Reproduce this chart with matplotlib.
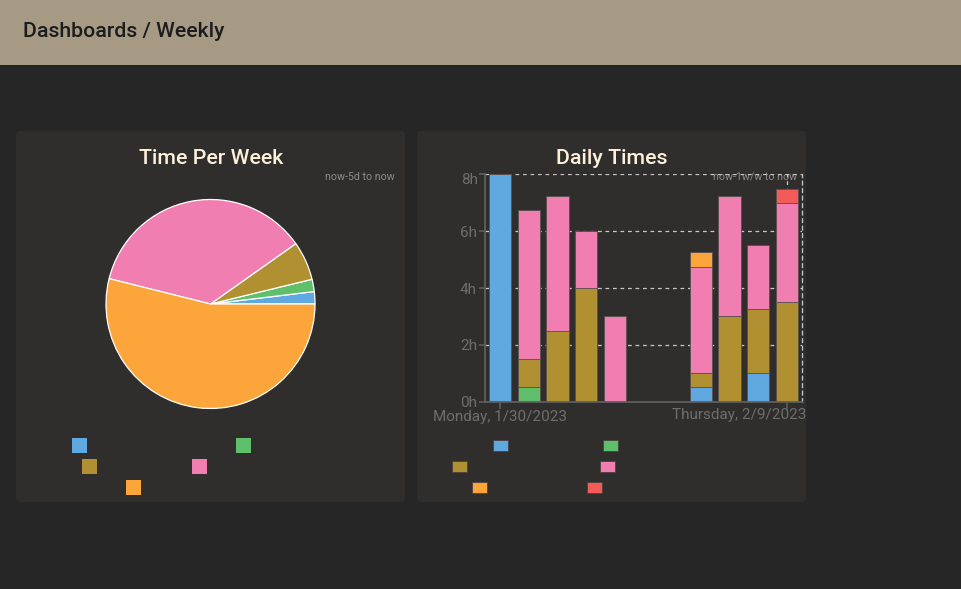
import matplotlib
matplotlib.use("Agg")
import matplotlib.pyplot as plt
from matplotlib.patches import Rectangle, FancyBboxPatch
import numpy as np

plt.rcParams['font.family'] = ['Roboto', 'DejaVu Sans']

# ---------------- data ----------------
pie_colors = ['#5fa8e0', '#5fbf6a', '#b09030', '#f07eb0', '#fca53b']
pie_values = [1.9, 1.9, 6.0, 36.3, 53.9]          # share of week (%)

days = ['Monday, 1/30/2023', 'Tue 1/31', 'Wed 2/1', 'Thu 2/2', 'Fri 2/3',
        'Sat 2/4', 'Sun 2/5', 'Mon 2/6', 'Tue 2/7', 'Wed 2/8',
        'Thursday, 2/9/2023']
bar_colors = ['#5fa8e0', '#5fbf6a', '#b09030', '#f07eb0', '#fca53b', '#f25c58']
s_blue   = [8.0, 0.0, 0.0, 0.0, 0.0, 0, 0, 0.5, 0.0, 1.0, 0.0]
s_green  = [0.0, 0.5, 0.0, 0.0, 0.0, 0, 0, 0.0, 0.0, 0.0, 0.0]
s_olive  = [0.0, 1.0, 2.5, 4.0, 0.0, 0, 0, 0.5, 3.0, 2.25, 3.5]
s_pink   = [0.0, 5.25, 4.75, 2.0, 3.0, 0, 0, 3.75, 4.25, 2.25, 3.5]
s_orange = [0.0, 0.0, 0.0, 0.0, 0.0, 0, 0, 0.5, 0.0, 0.0, 0.0]
s_red    = [0.0, 0.0, 0.0, 0.0, 0.0, 0, 0, 0.0, 0.0, 0.0, 0.5]
bar_series = [s_blue, s_green, s_olive, s_pink, s_orange, s_red]
y_ticks = [0, 2, 4, 6, 8]
y_tick_labels = ['0h', '2h', '4h', '6h', '8h']

# ---------------- figure ----------------
W, H = 961, 589
fig = plt.figure(figsize=(W / 100, H / 100), dpi=100)
fig.patch.set_facecolor('#262626')

bg = fig.add_axes([0, 0, 1, 1])
bg.set_xlim(0, W)
bg.set_ylim(H, 0)
bg.axis('off')

# header with shadow
for i, a in enumerate([0.25, 0.15, 0.08]):
    bg.add_patch(Rectangle((0, 64 + i), W, 1.2, color='black', alpha=a, lw=0))
bg.add_patch(Rectangle((0, 0), W, 64.5, color='#a69a85', lw=0))
bg.text(23, 31.5, 'Dashboards / Weekly', fontsize=15.3, fontweight='medium',
        color='#1c1c1c', va='center', ha='left')

# panels
for x0 in (16, 417):
    bg.add_patch(FancyBboxPatch((x0, 131), 389, 371,
                                boxstyle='round,pad=0,rounding_size=4',
                                facecolor='#302e2c', edgecolor='none'))

title_col = '#fdf1da'
bg.text(211, 158, 'Time Per Week', fontsize=15.4, fontweight='medium',
        color=title_col, ha='center', va='center')
bg.text(612, 158, 'Daily Times', fontsize=15.4, fontweight='medium',
        color=title_col, ha='center', va='center')
bg.text(395, 177, 'now-5d to now', fontsize=7.7, color='#8c8c8c',
        ha='right', va='center')

# legend squares (labels not visible in reference)
pie_leg_pos = [(72, 438), (236, 438), (82, 459), (192, 459), (126, 480)]
for (x, y), c in zip(pie_leg_pos, pie_colors):
    bg.add_patch(Rectangle((x, y), 15, 15, color=c, lw=0))

bar_leg_pos = [(493, 440), (603, 440), (452, 461), (600, 461), (472, 482), (587, 482)]
for (x, y), c in zip(bar_leg_pos, bar_colors):
    bg.add_patch(Rectangle((x, y), 15, 11, facecolor=c, edgecolor='#4a4040', lw=0.6))

# ---------------- pie ----------------
cx, cy, r = 210.5, 304, 104.5
pad = 4
ax_p = fig.add_axes([(cx - r - pad) / W, 1 - (cy + r + pad) / H,
                     (2 * (r + pad)) / W, (2 * (r + pad)) / H])
ax_p.pie(pie_values, colors=pie_colors, startangle=0, counterclock=True,
         radius=1, wedgeprops=dict(edgecolor='white', linewidth=0.9))
lim = (r + pad) / r
ax_p.set_xlim(-lim, lim)
ax_p.set_ylim(-lim, lim)
ax_p.set_aspect('auto')
ax_p.axis('off')

# ---------------- stacked bars ----------------
x0, x1, ytop, ybot = 485.3, 802, 174.3, 401.7
ax_b = fig.add_axes([x0 / W, 1 - ybot / H, (x1 - x0) / W, (ybot - ytop) / H])
ax_b.set_facecolor('none')
x = np.arange(len(days))
bottom = np.zeros(len(days))
for vals, c in zip(bar_series, bar_colors):
    v = np.array(vals, dtype=float)
    ax_b.bar(x, v, bottom=bottom, width=0.78, color=c,
             edgecolor='#5a5050', linewidth=0.6, zorder=2)
    bottom += v

tick_col = '#6e6e6e'
ax_b.set_xlim(-0.52, 10.53)
ax_b.set_ylim(0, 8)
ax_b.set_yticks(y_ticks)
# top label is nudged down inside the panel (like the reference)
ax_b.set_yticklabels(y_tick_labels[:-1] + [''])
bg.text(x0 - 7.5, ytop + 5.5, y_tick_labels[-1], fontsize=11, color=tick_col,
        ha='right', va='center')
ax_b.set_xticks([0, 10])
# last date label is shifted left to stay inside the panel
ax_b.set_xticklabels([days[0], ''])
bg.text(806, 415, days[10], fontsize=11, color=tick_col, ha='right', va='center')
ax_b.tick_params(axis='y', colors='#5e5e5e', labelcolor=tick_col, labelsize=11,
                 length=4, width=1.2, pad=2)
ax_b.tick_params(axis='x', colors='#5e5e5e', labelcolor=tick_col, labelsize=11,
                 length=5, width=1.2, pad=1)
for yv in y_ticks[1:]:
    ax_b.axhline(yv, color='#c8c8c8', lw=0.9, ls=(0, (3, 3)), zorder=1)
ax_b.axvline(10, color='#c8c8c8', lw=0.9, ls=(0, (3, 3)), zorder=1)
for s in ('left', 'bottom'):
    ax_b.spines[s].set_color('#5e5e5e')
    ax_b.spines[s].set_linewidth(1.3)
ax_b.spines['top'].set_visible(False)
ax_b.spines['right'].set_color('#c8c8c8')
ax_b.spines['right'].set_linewidth(0.9)
ax_b.spines['right'].set_linestyle((0, (3, 3)))

bg.text(797, 177, 'now-1w/w to now', fontsize=7.7, color='#8c8c8c',
        ha='right', va='center', zorder=5)
bg.set_zorder(0)
ax_b.set_zorder(1)
ax_p.set_zorder(1)

fig.savefig('out.png', dpi=100, facecolor=fig.get_facecolor())
